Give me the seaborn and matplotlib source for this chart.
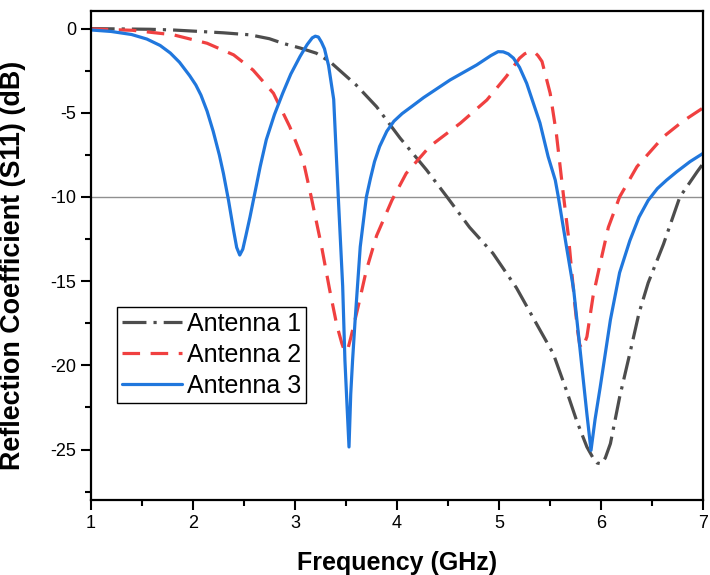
import pandas as pd
import seaborn as sns
import matplotlib.pyplot as plt

# valores (frecuencia en GHz, S11 en dB)
freq_a1 = [1.00, 1.30, 1.58, 1.80, 2.07, 2.30, 2.56, 2.75, 2.88, 3.05, 3.21, 3.35, 3.47,
           3.60, 3.80, 4.03, 4.29, 4.49, 4.71, 4.94, 5.17, 5.40, 5.53, 5.66, 5.76, 5.86,
           5.92, 5.96, 6.00, 6.04, 6.09, 6.18, 6.28, 6.37, 6.46, 6.61, 6.77, 6.94, 7.00]
s11_a1 = [0.00, -0.02, -0.04, -0.08, -0.17, -0.25, -0.37, -0.60, -0.87, -1.15, -1.46, -2.00, -2.65,
          -3.35, -4.64, -6.50, -8.40, -10.0, -11.8, -13.35, -15.4, -17.9, -19.3, -21.5, -23.3, -24.85,
          -25.5, -25.8, -25.85, -25.5, -24.65, -21.9, -19.3, -16.9, -15.1, -12.8, -10.0, -8.5, -8.0]

freq_a2 = [1.00, 1.41, 1.81, 2.14, 2.40, 2.59, 2.79, 2.95, 3.08, 3.16, 3.26, 3.34, 3.41, 3.46,
           3.48, 3.50, 3.52, 3.55, 3.62, 3.70, 3.80, 3.95, 4.09, 4.32, 4.62, 4.88, 5.07, 5.20,
           5.25, 5.29, 5.32, 5.35, 5.38, 5.42, 5.50, 5.56, 5.63, 5.68, 5.71, 5.74, 5.77, 5.79,
           5.81, 5.83, 5.86, 5.92, 5.99, 6.07, 6.18, 6.35, 6.61, 6.80, 7.00]
s11_a2 = [-0.02, -0.10, -0.37, -0.87, -1.56, -2.46, -3.84, -5.83, -7.8, -10.0, -12.9, -15.5, -17.6, -18.7,
          -19.05, -19.2, -19.0, -18.3, -16.5, -14.35, -12.3, -10.2, -8.6, -7.0, -5.62, -4.24, -2.85, -1.76,
          -1.5, -1.38, -1.37, -1.42, -1.6, -1.95, -3.84, -6.2, -9.9, -12.4, -14.35, -16.3, -18.0, -18.8,
          -19.0, -18.8, -18.3, -15.9, -13.95, -11.8, -10.0, -8.2, -6.42, -5.5, -4.7]

freq_a3 = [1.00, 1.20, 1.40, 1.55, 1.68, 1.78, 1.87, 1.97, 2.03, 2.08, 2.14, 2.20, 2.26, 2.30, 2.35,
           2.40, 2.43, 2.46, 2.49, 2.52, 2.56, 2.60, 2.66, 2.72, 2.80, 2.88, 2.96, 3.05, 3.12,
           3.17, 3.20, 3.23, 3.26, 3.29, 3.33, 3.38, 3.425, 3.468, 3.49, 3.51, 3.53, 3.547, 3.565,
           3.59, 3.64, 3.70, 3.74, 3.78, 3.83, 3.90, 3.97, 4.05, 4.15, 4.26, 4.52, 4.78, 4.92, 4.99, 5.04,
           5.09, 5.14, 5.20, 5.27, 5.40, 5.48, 5.55, 5.58, 5.66, 5.73, 5.79, 5.86, 5.90, 5.94,
           5.99, 6.09, 6.18, 6.28, 6.37, 6.46, 6.55, 6.64, 6.74, 6.87, 7.00]
s11_a3 = [-0.08, -0.17, -0.35, -0.62, -1.00, -1.45, -2.00, -2.80, -3.35, -3.95, -4.90, -6.10, -7.50, -8.60, -10.2,
          -12.0, -13.0, -13.45, -13.1, -12.3, -11.2, -10.0, -8.2, -6.6, -5.1, -3.85, -2.70, -1.66, -0.95,
          -0.55, -0.45, -0.50, -0.80, -1.20, -2.20, -4.2, -10.0, -15.3, -19.7, -22.3, -24.85, -21.7, -19.7,
          -17.3, -12.96, -10.0, -8.9, -7.9, -7.0, -6.1, -5.5, -5.05, -4.6, -4.1, -3.05, -2.16, -1.60, -1.37, -1.38,
          -1.5, -1.75, -2.3, -3.25, -5.6, -7.6, -9.0, -10.0, -12.96, -15.5, -18.9, -22.9, -25.05, -23.2,
          -21.3, -17.3, -14.5, -12.6, -11.2, -10.2, -9.5, -9.0, -8.5, -7.9, -7.4]

antenas = ['Antenna 1', 'Antenna 2', 'Antenna 3']

datos = pd.concat([
    pd.DataFrame({'freq': freq_a1, 's11': s11_a1, 'antena': antenas[0]}),
    pd.DataFrame({'freq': freq_a2, 's11': s11_a2, 'antena': antenas[1]}),
    pd.DataFrame({'freq': freq_a3, 's11': s11_a3, 'antena': antenas[2]}),
], ignore_index=True)

sns.set_style('ticks')
plt.rcParams['font.family'] = ['Liberation Sans', 'DejaVu Sans']
plt.rcParams['axes.unicode_minus'] = False
for clave in ['text.color', 'axes.labelcolor', 'xtick.color', 'ytick.color', 'axes.edgecolor']:
    plt.rcParams[clave] = 'black'

colores = {'Antenna 1': '#4d4d4d', 'Antenna 2': '#f04040', 'Antenna 3': '#2077dd'}
lineas = {'Antenna 1': (7.5, 2.2, 1, 2.2), 'Antenna 2': (5.5, 3.3), 'Antenna 3': ''}

fig, ax = plt.subplots(figsize=(7.1, 5.75), dpi=100)
fig.subplots_adjust(left=0.1277, right=0.9906, bottom=0.1304, top=0.981)

# linea de referencia en -10 dB
ax.axhline(-10, color='#909090', lw=1, zorder=1)

sns.lineplot(data=datos, x='freq', y='s11', hue='antena', style='antena',
             palette=colores, dashes=lineas, linewidth=2.3, estimator=None,
             sort=False, ax=ax)

ax.set_xlim(1, 7)
ax.set_ylim(-28, 1.05)
ax.set_xticks([1, 2, 3, 4, 5, 6, 7])
ax.set_xticks([1.5, 2.5, 3.5, 4.5, 5.5, 6.5], minor=True)
ax.set_yticks([0, -5, -10, -15, -20, -25])
ax.set_yticks([-2.5, -7.5, -12.5, -17.5, -22.5, -27.5], minor=True)
ax.tick_params(which='major', length=7, width=1.5, labelsize=13, direction='out')
ax.tick_params(which='minor', length=4, width=1.5, direction='out')
for lado in ax.spines.values():
    lado.set_linewidth(1.6)

ax.set_xlabel('Frequency (GHz)', fontsize=18, fontweight='bold', labelpad=14)
ax.set_ylabel('Reflection Coefficient (S11) (dB)', fontsize=19.4, fontweight='bold')
ax.yaxis.set_label_coords(-0.106, 0.479)

handles, labels = ax.get_legend_handles_labels()
leg = ax.legend(handles, labels, loc='lower left', bbox_to_anchor=(0.043, 0.198),
                borderaxespad=0, fontsize=18, fancybox=False, framealpha=1,
                edgecolor='black', handlelength=2.4, handletextpad=0.2,
                labelspacing=0.28, borderpad=0.2)
leg.get_frame().set_linewidth(1)

plt.savefig('out.png', dpi=100)
plt.close()
